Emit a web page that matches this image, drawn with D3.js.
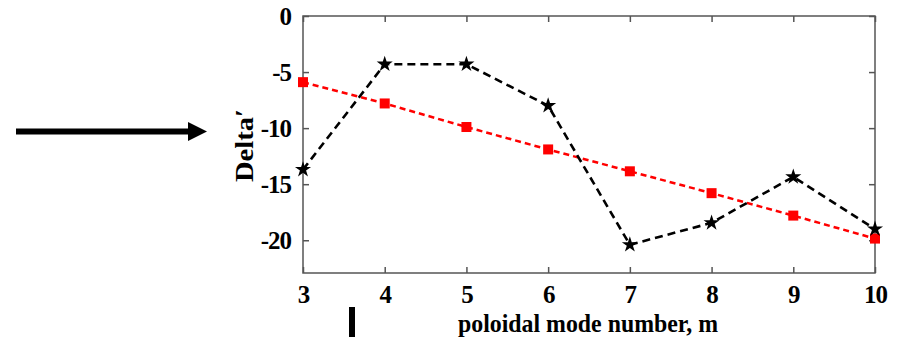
<!DOCTYPE html>
<html><head><meta charset="utf-8">
<script src="https://cdn.jsdelivr.net/npm/d3@7"></script>
<style>body{margin:0;background:#fff}svg{display:block}</style>
</head><body>
<svg id="c" width="897" height="337"></svg>
<script>
const modes = [3,4,5,6,7,8,9,10];
const blackStar = [-13.7,-4.3,-4.3,-8.0,-20.4,-18.45,-14.35,-19.0];
const redSquare = [-5.9,-7.8,-9.9,-11.9,-13.85,-15.8,-17.8,-19.85];
const yTicks = [0,-5,-10,-15,-20];
const xTicks = [3,4,5,6,7,8,9,10];
const xLabel = "poloidal mode number, m";
const yLabel = "Delta\u2032";

const FONT = "Liberation Serif";
const svg = d3.select("#c");
const L=303,R=875,T=16,B=273;
const x = d3.scaleLinear().domain([3,10]).range([L,R]);
const y = d3.scaleLinear().domain([-22.92,0]).range([B,T]);

function styleText(sel, size){
  sel.attr("font-family",FONT).style("font-family",FONT)
     .attr("font-weight","bold").style("font-weight","bold")
     .attr("font-size",size).style("font-size",size+"px").attr("fill","#000");
}

svg.append("rect").attr("x",L).attr("y",T).attr("width",R-L).attr("height",B-T)
  .attr("fill","none").attr("stroke","#555").attr("stroke-width",1.5);

const axB = svg.append("g").attr("transform",`translate(0,${B})`).call(d3.axisBottom(x).tickValues(xTicks).tickSize(-6).tickPadding(12).tickFormat(d3.format("d")));
const axT = svg.append("g").attr("transform",`translate(0,${T})`).call(d3.axisTop(x).tickValues(xTicks).tickSize(-6).tickFormat(""));
const axL = svg.append("g").attr("transform",`translate(${L},0)`).call(d3.axisLeft(y).tickValues(yTicks).tickSize(-6).tickPadding(12).tickFormat(d=>d===0?"0":String(d).replace("\u2212","-")));
const axR = svg.append("g").attr("transform",`translate(${R},0)`).call(d3.axisRight(y).tickValues(yTicks).tickSize(-6).tickFormat(""));
[axB,axT,axL,axR].forEach(g=>{
  g.attr("font-family",FONT);
  g.select(".domain").remove();
  g.selectAll(".tick line").attr("stroke","#555").attr("stroke-width",1.5);
  styleText(g.selectAll("text"), 25);
  g.selectAll("text").style("letter-spacing","-1px");
});
axB.selectAll("text").attr("dy","0.71em");
axL.selectAll("text").attr("dy","0.34em");

const line = d3.line().x((d,i)=>x(modes[i])).y(d=>y(d));
svg.append("path").datum(redSquare).attr("d",line).attr("fill","none")
  .attr("stroke","#ff0000").attr("stroke-width",2.5).attr("stroke-dasharray","6,4");
svg.append("path").datum(blackStar).attr("d",line).attr("fill","none")
  .attr("stroke","#000").attr("stroke-width",2.6).attr("stroke-dasharray","8,5");

svg.selectAll(".sq").data(redSquare).enter().append("rect")
  .attr("x",(d,i)=>x(modes[i])-5).attr("y",d=>y(d)-5).attr("width",10).attr("height",10).attr("fill","#ff0000");
const star = d3.symbol().type(d3.symbolStar).size(80);
svg.selectAll(".st").data(blackStar).enter().append("path")
  .attr("d",star).attr("transform",(d,i)=>`translate(${x(modes[i])},${y(d)})`).attr("fill","#000");

styleText(svg.append("text").attr("x",458).attr("y",332).attr("textLength",260).attr("lengthAdjust","spacingAndGlyphs").text(xLabel), 26);
styleText(svg.append("text").attr("transform","translate(253,182) rotate(-90)").attr("textLength",73).attr("lengthAdjust","spacingAndGlyphs").text(yLabel), 26);

svg.append("rect").attr("x",16).attr("y",128.5).attr("width",174).attr("height",6).attr("fill","#000");
svg.append("path").attr("d","M188,122 L207,131.5 L188,141 Z").attr("fill","#000");
svg.append("rect").attr("x",349).attr("y",307).attr("width",6).attr("height",30).attr("fill","#000");
</script>
</body></html>
